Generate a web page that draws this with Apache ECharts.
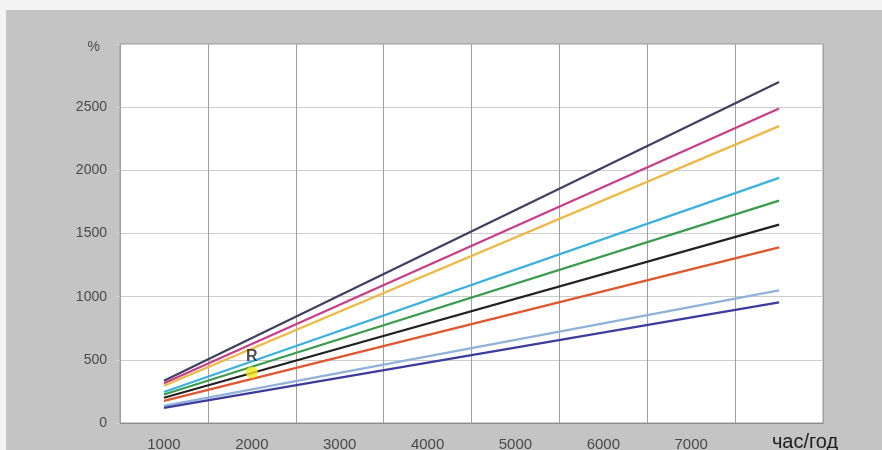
<!DOCTYPE html>
<html>
<head>
<meta charset="utf-8">
<script src="https://cdn.jsdelivr.net/npm/echarts@6/dist/echarts.min.js"></script>
<style>
  html, body { margin: 0; padding: 0; background: #f3f3f3; }
  #wrap { position: relative; width: 882px; height: 450px; background: #f3f3f3; overflow: hidden; }
  #panel { position: absolute; left: 6px; top: 10px; width: 876px; height: 440px; background: #c4c4c4; }
  #chart { position: absolute; left: 0; top: 0; width: 882px; height: 450px; }
</style>
</head>
<body>
<div id="wrap">
  <div id="panel"></div>
  <div id="chart"></div>
</div>
<script>
// hours per year (category axis), last one carries the unit label
const hours = ['1000', '2000', '3000', '4000', '5000', '6000', '7000', '8000']
const yTicks = [0, 500, 1000, 1500, 2000, 2500, 3000]

// value of each line at 1000 h and at 8000 h (%)
const lineStart = [335, 315, 295, 245, 225, 200, 175, 135, 120]
const lineEnd = [2700, 2490, 2350, 1940, 1760, 1570, 1390, 1050, 955]

// point R
const pointR = ['2000', 400]

const colors = ['#3f4060', '#c83c88', '#efb845', '#3ab0de', '#3a9c4c', '#222222', '#e0552e', '#8eb2da', '#3c3c9c']

const chart = echarts.init(document.getElementById('chart'))

const series = lineStart.map((v, i) => ({
  type: 'line',
  symbol: 'none',
  silent: true,
  data: [[hours[0], v], [hours[hours.length - 1], lineEnd[i]]],
  lineStyle: { color: colors[i], width: 2.2 },
  z: 3
}))

series.push({
  type: 'scatter',
  data: [pointR],
  symbolSize: 12,
  itemStyle: { color: '#f4e81a' },
  label: {
    show: true,
    formatter: 'R',
    position: 'top',
    distance: 2,
    color: '#222',
    fontSize: 16,
    fontWeight: 'bold',
    fontFamily: 'Liberation Sans'
  },
  z: 5
})

chart.setOption({
  animation: false,
  backgroundColor: 'transparent',
  textStyle: { fontFamily: 'Liberation Sans' },
  grid: {
    left: 120,
    right: 59,
    top: 44,
    bottom: 27,
    containLabel: false,
    outerBoundsMode: 'none',
    show: true,
    backgroundColor: '#ffffff',
    borderColor: '#9a9a9a',
    borderWidth: 1
  },
  xAxis: {
    type: 'category',
    data: hours,
    boundaryGap: true,
    axisLine: { lineStyle: { color: '#8a8a8a', width: 1 } },
    axisTick: { show: false },
    splitLine: { show: true, lineStyle: { color: '#a0a0a0', width: 1 } },
    axisLabel: {
      color: '#4a4a4a',
      fontSize: 15,
      margin: 14,
      interval: 0,
      formatter: (val, idx) => idx === hours.length - 1 ? '{u|час/год}' : val,
      rich: {
        u: { fontSize: 20, lineHeight: 10, color: '#1e1e1e', padding: [0, 0, 0, 52], fontFamily: 'Liberation Sans' }
      }
    }
  },
  yAxis: {
    type: 'value',
    min: yTicks[0],
    max: yTicks[yTicks.length - 1],
    interval: 500,
    axisLine: { show: false },
    axisTick: { show: true, length: 5, lineStyle: { color: '#cfcfcf' } },
    splitLine: { show: true, lineStyle: { color: '#cdcdcd', width: 1 } },
    axisLabel: {
      color: '#4a4a4a',
      fontSize: 14,
      margin: 13,
      formatter: v => v === yTicks[yTicks.length - 1] ? '{p|%}' : String(v),
      rich: {
        p: { fontSize: 14, color: '#4a4a4a', padding: [6, 7, 0, 0] }
      }
    }
  },
  series: series
})
</script>
</body>
</html>
